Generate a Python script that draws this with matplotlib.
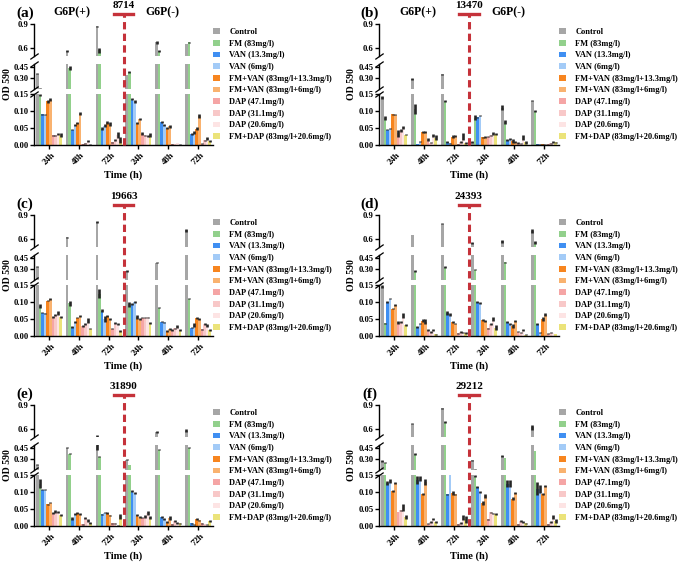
import numpy as np
import matplotlib
matplotlib.use('Agg')
import matplotlib.pyplot as plt
from matplotlib.patches import Patch
from matplotlib.lines import Line2D
from matplotlib.legend_handler import HandlerTuple
from matplotlib.transforms import blended_transform_factory

plt.rcParams['font.family'] = ['Liberation Serif', 'DejaVu Serif']
plt.rcParams['font.weight'] = 'bold'

# ---- data ----
series = ['Control', 'FM (83mg/l)', 'VAN (13.3mg/l)', 'VAN (6mg/l)',
          'FM+VAN (83mg/l+13.3mg/l)', 'FM+VAN (83mg/l+6mg/l)',
          'DAP (47.1mg/l)', 'DAP (31.1mg/l)', 'DAP (20.6mg/l)',
          'FM+DAP (83mg/l+20.6mg/l)']
colors = ['#a6a6a6', '#92d08c', '#3f8ff2', '#a3cbf7', '#f7851f', '#f9b26f',
          '#f5a5a5', '#f8c8c8', '#fde4e4', '#ebe37a']
times = ['24h', '48h', '72h', '24h', '48h', '72h']
strains = ['8714', '13470', '19663', '24393', '31890', '29212']
tags = ['(a)', '(b)', '(c)', '(d)', '(e)', '(f)']

# rows = time groups, columns = series
a_mean = [[0.36, 0.148, 0.090, 0.089, 0.128, 0.133, 0.028, 0.028, 0.033, 0.030],
          [0.56, 0.44, 0.045, 0.058, 0.066, 0.092, 0.002, 0.005, 0.013, 0.001],
          [0.87, 0.57, 0.048, 0.057, 0.066, 0.062, 0.008, 0.015, 0.030, 0.015],
          [0.34, 0.38, 0.135, 0.128, 0.065, 0.077, 0.033, 0.028, 0.026, 0.030],
          [0.67, 0.565, 0.068, 0.060, 0.050, 0.055, 0.002, 0.003, 0.006, 0.001],
          [0.65, 0.67, 0.032, 0.036, 0.048, 0.085, 0.004, 0.014, 0.020, 0.012]]
a_err = [[0.005, 0.003, 0.002, 0.002, 0.004, 0.004, 0.002, 0.002, 0.003, 0.006],
         [0.015, 0.025, 0.002, 0.003, 0.003, 0.004, 0.001, 0.001, 0.003, 0.001],
         [0.005, 0.03, 0.004, 0.005, 0.005, 0.005, 0.001, 0.002, 0.008, 0.008],
         [0.005, 0.01, 0.004, 0.004, 0.002, 0.003, 0.004, 0.002, 0.002, 0.005],
         [0.02, 0.01, 0.003, 0.003, 0.002, 0.004, 0.001, 0.001, 0.001, 0.001],
         [0.005, 0.01, 0.002, 0.004, 0.004, 0.005, 0.001, 0.002, 0.005, 0.004]]

b_mean = [[0.14, 0.080, 0.045, 0.048, 0.090, 0.089, 0.035, 0.043, 0.052, 0.030],
          [0.285, 0.105, 0.003, 0.010, 0.038, 0.038, 0.016, 0.007, 0.028, 0.022],
          [0.35, 0.130, 0.008, 0.005, 0.025, 0.026, 0.002, 0.010, 0.025, 0.005],
          [0.008, 0.080, 0.081, 0.086, 0.023, 0.024, 0.025, 0.028, 0.033, 0.032],
          [0.110, 0.068, 0.015, 0.018, 0.012, 0.010, 0.006, 0.004, 0.022, 0.008],
          [0.130, 0.100, 0.002, 0.002, 0.002, 0.001, 0.002, 0.005, 0.010, 0.008]]
b_err = [[0.004, 0.005, 0.002, 0.002, 0.002, 0.002, 0.010, 0.004, 0.004, 0.002],
         [0.010, 0.015, 0.001, 0.002, 0.003, 0.004, 0.004, 0.002, 0.003, 0.006],
         [0.010, 0.003, 0.003, 0.002, 0.004, 0.003, 0.001, 0.003, 0.010, 0.003],
         [0.003, 0.007, 0.002, 0.002, 0.002, 0.002, 0.002, 0.002, 0.005, 0.003],
         [0.008, 0.006, 0.002, 0.003, 0.005, 0.003, 0.002, 0.002, 0.006, 0.005],
         [0.002, 0.003, 0.001, 0.001, 0.001, 0.001, 0.001, 0.002, 0.003, 0.002]]

c_mean = [[0.33, 0.088, 0.069, 0.067, 0.104, 0.108, 0.057, 0.062, 0.068, 0.055],
          [0.62, 0.096, 0.027, 0.041, 0.054, 0.058, 0.029, 0.035, 0.045, 0.022],
          [0.81, 0.125, 0.075, 0.050, 0.058, 0.050, 0.022, 0.037, 0.035, 0.015],
          [0.27, 0.093, 0.094, 0.100, 0.056, 0.050, 0.054, 0.054, 0.055, 0.039],
          [0.385, 0.083, 0.042, 0.040, 0.016, 0.020, 0.018, 0.023, 0.027, 0.018],
          [0.71, 0.110, 0.025, 0.032, 0.052, 0.049, 0.020, 0.035, 0.030, 0.018]]
c_err = [[0.005, 0.006, 0.002, 0.002, 0.002, 0.003, 0.003, 0.002, 0.006, 0.003],
         [0.010, 0.007, 0.002, 0.003, 0.002, 0.003, 0.002, 0.003, 0.008, 0.002],
         [0.010, 0.012, 0.005, 0.010, 0.003, 0.003, 0.002, 0.003, 0.003, 0.003],
         [0.010, 0.008, 0.004, 0.003, 0.005, 0.003, 0.002, 0.002, 0.002, 0.003],
         [0.005, 0.002, 0.002, 0.002, 0.003, 0.003, 0.002, 0.002, 0.004, 0.002],
         [0.020, 0.002, 0.002, 0.006, 0.003, 0.003, 0.002, 0.003, 0.004, 0.002]]

d_mean = [[0.145, 0.037, 0.100, 0.110, 0.080, 0.090, 0.040, 0.041, 0.060, 0.033],
          [0.65, 0.27, 0.027, 0.036, 0.045, 0.042, 0.018, 0.012, 0.018, 0.005],
          [0.79, 0.33, 0.068, 0.064, 0.041, 0.036, 0.008, 0.012, 0.011, 0.009],
          [0.55, 0.29, 0.100, 0.098, 0.048, 0.044, 0.023, 0.035, 0.050, 0.025],
          [0.57, 0.39, 0.041, 0.036, 0.030, 0.044, 0.013, 0.010, 0.018, 0.004],
          [0.70, 0.56, 0.035, 0.010, 0.050, 0.063, 0.007, 0.010, 0.009, 0.006]]
d_err = [[0.005, 0.002, 0.002, 0.002, 0.002, 0.003, 0.004, 0.002, 0.007, 0.003],
         [0.005, 0.015, 0.002, 0.002, 0.005, 0.007, 0.002, 0.002, 0.004, 0.001],
         [0.005, 0.012, 0.005, 0.005, 0.002, 0.002, 0.001, 0.002, 0.002, 0.002],
         [0.015, 0.010, 0.002, 0.003, 0.003, 0.004, 0.002, 0.002, 0.005, 0.006],
         [0.020, 0.003, 0.003, 0.003, 0.005, 0.004, 0.002, 0.002, 0.004, 0.001],
         [0.020, 0.020, 0.002, 0.002, 0.006, 0.004, 0.001, 0.001, 0.001, 0.001]]

e_mean = [[0.22, 0.125, 0.107, 0.107, 0.064, 0.069, 0.038, 0.042, 0.042, 0.032],
          [0.455, 0.37, 0.022, 0.036, 0.039, 0.035, 0.005, 0.024, 0.017, 0.010],
          [0.48, 0.33, 0.034, 0.039, 0.039, 0.031, 0.008, 0.008, 0.001, 0.028],
          [0.29, 0.21, 0.103, 0.098, 0.033, 0.027, 0.025, 0.028, 0.038, 0.025],
          [0.56, 0.43, 0.027, 0.020, 0.012, 0.023, 0.005, 0.016, 0.009, 0.008],
          [0.58, 0.455, 0.008, 0.004, 0.020, 0.017, 0.008, 0.006, 0.004, 0.016]]
e_err = [[0.010, 0.012, 0.002, 0.002, 0.002, 0.002, 0.002, 0.004, 0.003, 0.004],
         [0.005, 0.005, 0.004, 0.003, 0.003, 0.004, 0.001, 0.003, 0.004, 0.003],
         [0.050, 0.010, 0.002, 0.002, 0.003, 0.002, 0.002, 0.001, 0.001, 0.006],
         [0.010, 0.003, 0.002, 0.003, 0.003, 0.002, 0.002, 0.003, 0.005, 0.005],
         [0.015, 0.005, 0.003, 0.003, 0.002, 0.005, 0.001, 0.003, 0.002, 0.002],
         [0.020, 0.010, 0.002, 0.001, 0.003, 0.002, 0.002, 0.001, 0.001, 0.003]]

f_mean = [[0.27, 0.245, 0.127, 0.133, 0.103, 0.127, 0.041, 0.046, 0.055, 0.027],
          [0.665, 0.365, 0.135, 0.140, 0.093, 0.130, 0.007, 0.012, 0.020, 0.011],
          [0.86, 0.69, 0.093, 0.150, 0.097, 0.093, 0.005, 0.010, 0.025, 0.020],
          [0.28, 0.148, 0.115, 0.100, 0.068, 0.088, 0.020, 0.040, 0.037, 0.035],
          [0.34, 0.31, 0.125, 0.125, 0.080, 0.097, 0.005, 0.015, 0.012, 0.008],
          [0.62, 0.41, 0.110, 0.108, 0.093, 0.118, 0.005, 0.012, 0.027, 0.015]]
f_err = [[0.010, 0.010, 0.006, 0.006, 0.003, 0.003, 0.001, 0.002, 0.010, 0.005],
         [0.005, 0.010, 0.012, 0.008, 0.003, 0.008, 0.001, 0.002, 0.003, 0.003],
         [0.005, 0.015, 0.002, 0.000, 0.007, 0.002, 0.001, 0.003, 0.006, 0.010],
         [0.010, 0.003, 0.003, 0.003, 0.005, 0.007, 0.002, 0.002, 0.002, 0.003],
         [0.008, 0.005, 0.010, 0.010, 0.004, 0.003, 0.001, 0.002, 0.002, 0.002],
         [0.035, 0.005, 0.018, 0.012, 0.003, 0.004, 0.001, 0.003, 0.006, 0.006]]

means = [a_mean, b_mean, c_mean, d_mean, e_mean, f_mean]
errs = [a_err, b_err, c_err, d_err, e_err, f_err]

# ---- layout (pixels) ----
W, H = 685, 563
fig = plt.figure(figsize=(W / 100, H / 100), dpi=100)
RED = '#c5323a'

col_x = [34, 379]
col_w = [179, 180]
row_y = [24, 215, 405]
PH = 121
# (ylow, yhigh, offset from panel top, height)
segs = [(0.5, 0.9, 0, 32), (0.15, 0.5, 39.5, 25), (0.0, 0.15, 70, 51)]
seg_ticks = [[0.6, 0.9], [0.30, 0.45], [0.00, 0.05, 0.10, 0.15]]
seg_fmt = ['{:.1f}', '{:.2f}', '{:.2f}']

bw = 0.087
xg = np.arange(len(times))


def px_axes(x, y, w, h):
    return fig.add_axes([x / W, 1 - (y + h) / H, w / W, h / H])


def fy(y):
    return 1 - y / H


for p in range(6):
    r, c = p // 2, p % 2
    x0, y0, w = col_x[c], row_y[r], col_w[c]
    m = np.array(means[p])
    e = np.array(errs[p])
    axes = []
    for s, (lo, hi, off, h) in enumerate(segs):
        ax = px_axes(x0, y0 + off, w, h)
        ax.patch.set_visible(False)
        for i in range(len(series)):
            ax.bar(xg + (i - 4.5) * bw, m[:, i], bw, color=colors[i],
                   linewidth=0, zorder=2)
            ax.errorbar(xg + (i - 4.5) * bw, m[:, i], yerr=e[:, i], fmt='none',
                        ecolor='#262626', elinewidth=1.9, capsize=0, zorder=3)
        ax.set_xlim(-0.5, 5.5)
        ax.set_ylim(lo, hi)
        ax.set_yticks(seg_ticks[s])
        ax.set_yticklabels([seg_fmt[s].format(t) for t in seg_ticks[s]])
        ax.tick_params(axis='y', length=3, width=1, labelsize=6.2, pad=1)
        for sp in ['top', 'right']:
            ax.spines[sp].set_visible(False)
        ax.spines['left'].set_linewidth(1)
        # break marks
        kw = dict(marker=[(-1, -0.7), (1, 0.7)], markersize=6, linestyle='none',
                  color='k', mec='k', mew=0.9, clip_on=False, transform=ax.transAxes)
        if s < 2:
            ax.plot([0], [0], **kw)
        if s > 0:
            ax.plot([0], [1], **kw)
        if s < 2:
            ax.spines['bottom'].set_visible(False)
            ax.set_xticks([])
        else:
            ax.spines['bottom'].set_linewidth(1)
            ax.set_xticks(xg)
            ax.set_xticklabels(times, rotation=45, ha='center')
            ax.tick_params(axis='x', length=3, width=1, labelsize=6.5, pad=1)
        axes.append(ax)

    axb = axes[-1]
    tr = blended_transform_factory(axb.transData, fig.transFigure)
    # red dashed divider with T-top
    fig.add_artist(Line2D([2.5, 2.5], [fy(y0 + PH), fy(y0 - 10.5)], transform=tr,
                          color=RED, lw=2.2, linestyle=(0, (2.4, 1.4)), zorder=5))
    fig.add_artist(Line2D([2.18, 2.82], [fy(y0 - 10.5), fy(y0 - 10.5)], transform=tr,
                          color=RED, lw=2.4, zorder=5))
    fig.text(2.5, fy(y0 - 18.5), strains[p], transform=tr, ha='center', va='center',
             fontsize=8, fontweight='bold')
    if r == 0:
        fig.text(0.78, fy(y0 - 12), 'G6P(+)', transform=tr, ha='center', va='center',
                 fontsize=8.5, fontweight='bold')
        fig.text(3.8, fy(y0 - 12), 'G6P(-)', transform=tr, ha='center', va='center',
                 fontsize=8.5, fontweight='bold')
    # panel tag
    fig.text((25 if c == 0 else 370) / W, fy(y0 - 11), tags[p], ha='center', va='center',
             fontsize=11, fontweight='bold')
    # axis labels
    fig.text((7 if c == 0 else 351) / W, fy(y0 + PH / 2), 'OD 590', rotation=90,
             ha='center', va='center', fontsize=7, fontweight='bold')
    fig.text((x0 + w / 2) / W, fy(y0 + PH + 30), 'Time (h)', ha='center', va='center',
             fontsize=7.5, fontweight='bold')
    # legend
    handles = [(Patch(facecolor=col, edgecolor='none'),
                Line2D([], [], color='white', lw=0.8)) for col in colors]
    fig.legend(handles, series, handler_map={tuple: HandlerTuple(ndivide=None)},
               loc='upper left', bbox_to_anchor=((x0 + w) / W, fy(y0 + 4)),
               frameon=False, fontsize=6, handlelength=1.7, handleheight=0.65,
               handletextpad=0.25, labelspacing=0.44, borderpad=0, borderaxespad=0)

fig.savefig('out.png', dpi=100)
